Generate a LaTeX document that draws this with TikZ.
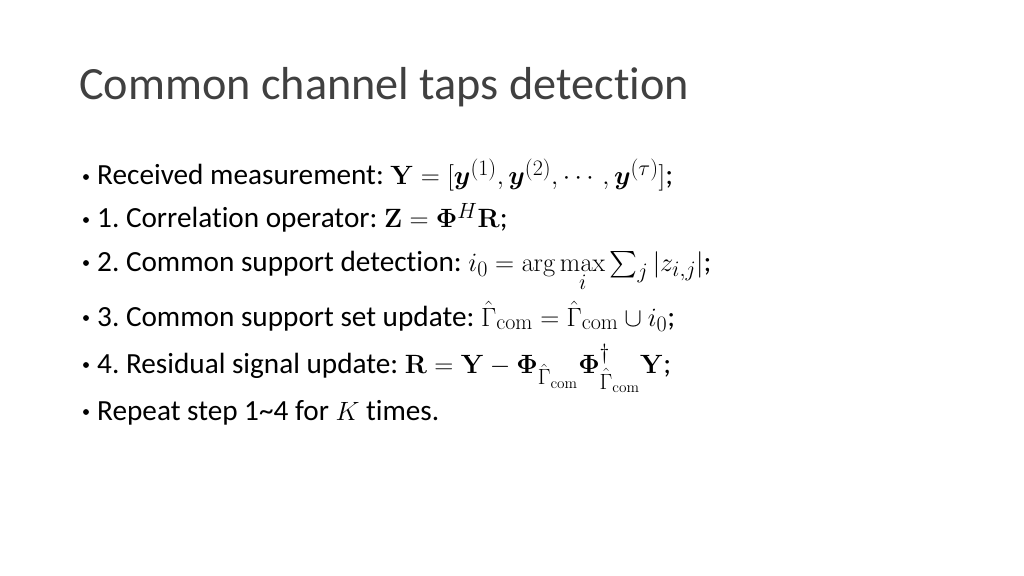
\documentclass[tikz,border=0pt]{standalone}
\usepackage{amsmath}
\usepackage{bm}
\usepackage[no-math]{fontspec}
\setmainfont[RawFeature=-liga]{Carlito}
\newfontfamily\titlefont[RawFeature=-liga]{Carlito}
\frenchspacing
\usetikzlibrary{positioning}
\tikzset{
  slidetitle/.style={anchor=base west,inner sep=0pt,font=\titlefont\fontsize{43.5}{48}\selectfont,text=black!75},
  itemtext/.style={anchor=base west,inner sep=0pt,font=\fontsize{27.5}{32}\selectfont},
  bulletdot/.style={circle,fill=black,inner sep=0pt,minimum size=5.5pt}
}
\begin{document}
\begin{tikzpicture}[x=0.03307cm,y=-0.03307cm]
  \useasboundingbox (0,0) rectangle (1024,576);
  % Title
  \node[slidetitle] (title) at (79,100) {Common channel taps detection};
  % Items
  \foreach \name/\yy/\txt in {
    meas/185/{Received measurement: $\mathbf{Y}=[\bm{y}^{(1)},\bm{y}^{(2)},\cdots,\bm{y}^{(\tau)}]$;},
    corr/228/{1. Correlation operator: $\mathbf{Z}=\bm{\Phi}^{H}\mathbf{R}$;},
    supp/271/{2. Common support detection: $i_0=\arg\max\limits_{i}\sum_{j}|z_{i,j}|$;},
    upd/326/{3. Common support set update: $\hat{\Gamma}_{\mathrm{com}}=\hat{\Gamma}_{\mathrm{com}}\cup i_0$;},
    res/373/{4. Residual signal update: $\mathbf{R}=\mathbf{Y}-\bm{\Phi}_{\hat{\Gamma}_{\mathrm{com}}}\bm{\Phi}^{\dagger}_{\hat{\Gamma}_{\mathrm{com}}}\mathbf{Y}$;},
    rep/420/{Repeat step 1\textasciitilde4 for $K$ times.}}
  {
    \node[itemtext] (\name) at (97,\yy) {\txt};
    \node[bulletdot] (\name-dot) at (86,\yy-8) {};
  }
\end{tikzpicture}
\end{document}
